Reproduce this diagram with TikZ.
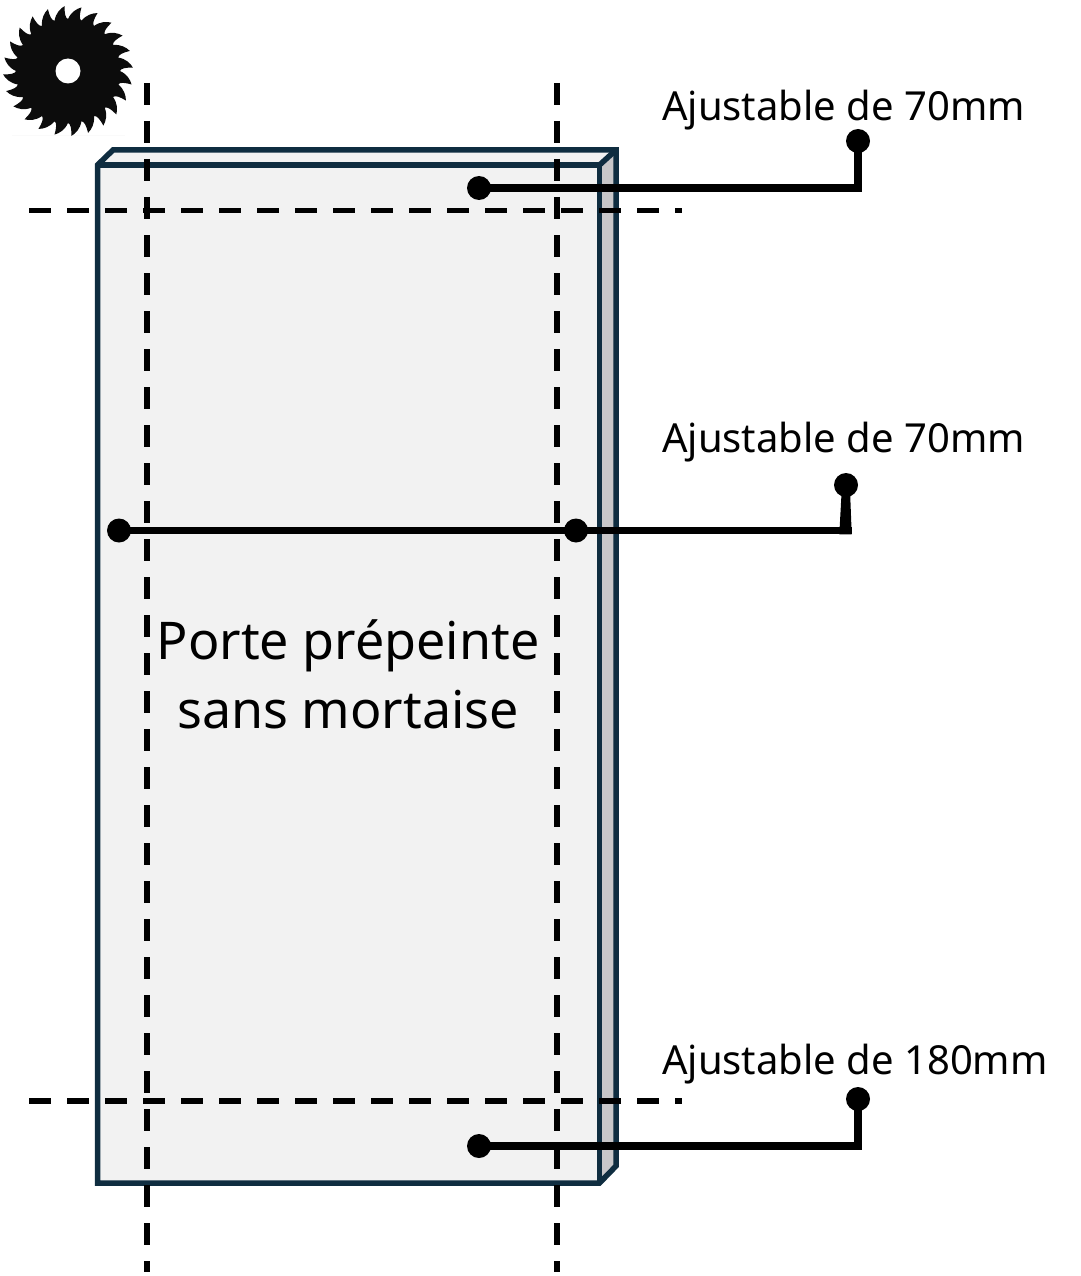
\documentclass[tikz,border=0pt]{standalone}
\usepackage{fontspec}
\setmainfont{Noto Sans}
\definecolor{doorline}{HTML}{0F2D40}
\definecolor{doorfront}{HTML}{F2F2F2}
\definecolor{doorside}{HTML}{C8C7C9}
\definecolor{bladeblack}{HTML}{0C0C0C}
\tikzset{
  x=1pt,y=-1pt,
  doorstroke/.style={draw=doorline,line width=5.5pt,line join=miter},
  cutline/.style={draw=black,line width=5.5pt,dash pattern=on 22pt off 16pt},
  leader/.style={draw=black,line width=7.5pt,line join=miter},
  pin/.style={circle,fill=black,draw=none,minimum size=24pt,inner sep=0pt},
  smalllabel/.style={anchor=base west,inner sep=0pt,font=\fontsize{40}{48}\selectfont},
  biglabel/.style={anchor=center,inner sep=0pt,align=center,font=\fontsize{52}{69}\selectfont}
}
\begin{document}
\begin{tikzpicture}
\useasboundingbox (0,0) rectangle (1080,1276);
% saw blade
\fill[black!2] (12,135) rectangle (125,136.5);
\fill[bladeblack] ({68+52*cos(0)},{71+52*sin(0)})
  \foreach \k in {0,...,23}{
    \pgfextra{\pgfmathsetmacro{\aa}{\k*15}\pgfmathsetmacro{\ab}{\k*15+12}\pgfmathsetmacro{\ac}{\k*15+15}
    \pgfmathsetmacro{\ad}{\k*15+3}\pgfmathsetmacro{\ae}{\k*15+8}\pgfmathsetmacro{\af}{\k*15+11.5}}
    .. controls ({68+59*cos(\ad)},{71+59*sin(\ad)}) and ({68+63*cos(\ae)},{71+63*sin(\ae)}) .. ({68+65*cos(\ab)},{71+65*sin(\ab)})
    .. controls ({68+58*cos(\af)},{71+58*sin(\af)}) and ({68+53*cos(\ab)},{71+53*sin(\ab)}) .. ({68+52*cos(\ac)},{71+52*sin(\ac)})
  } -- cycle;
\fill[white] (68,71) circle (12.5);
% door
\fill[doorfront] (113,150) -- (616,150) -- (599.5,165) -- (97.5,165) -- cycle;
\fill[doorside] (599.5,165) -- (616,150) -- (616,1166) -- (599.5,1183) -- cycle;
\fill[doorfront] (97.5,165) rectangle (599.5,1183);
\draw[doorstroke] (97.5,165) -- (113,150) -- (616,150) -- (616,1166) -- (599.5,1183) -- (97.5,1183) -- cycle;
\draw[doorstroke] (97.5,165) -- (599.5,165) -- (599.5,1183);
\draw[doorstroke] (599.5,165) -- (616,150);
% cut lines
\coordinate (v1a) at (147,83);  \coordinate (v1b) at (147,1272);
\coordinate (v2a) at (557,83);  \coordinate (v2b) at (557,1272);
\coordinate (h1a) at (29,210.5);  \coordinate (h1b) at (682,210.5);
\coordinate (h2a) at (29,1101);  \coordinate (h2b) at (682,1101);
\draw[cutline] (v1a) -- (v1b);
\draw[cutline] (v2a) -- (v2b);
\draw[cutline] (h1a) -- (h1b);
\draw[cutline] (h2a) -- (h2b);
% pins
\node[pin] (p1a) at (479,188) {};
\node[pin] (p1b) at (858,141) {};
\node[pin] (p2l) at (119,530.5) {};
\node[pin] (p2r) at (576,530.5) {};
\node[pin] (p2b) at (846,485) {};
\node[pin] (p3a) at (479,1146) {};
\node[pin] (p3b) at (858,1099) {};
\coordinate (e2) at (851.7,530.5);
% leaders
\draw[leader] (p1a.center) -| (p1b.center);
\draw[leader] (p2l.center) -- (p2r.center) -- (e2);
\fill[black] (851.7,534.25) -- (850,490) -- (841.7,490) -- (839.3,534.25) -- cycle;
\draw[leader] (p3a.center) -| (p3b.center);
% labels
\node[smalllabel] (t1) at (662,120.5) {Ajustable de 70mm};
\node[smalllabel] (t2) at (662,452.5) {Ajustable de 70mm};
\node[smalllabel] (t3) at (662,1074.5) {Ajustable de 180mm};
\node[biglabel] (main) at (348,674) {Porte prépeinte\\sans mortaise};
\end{tikzpicture}
\end{document}
